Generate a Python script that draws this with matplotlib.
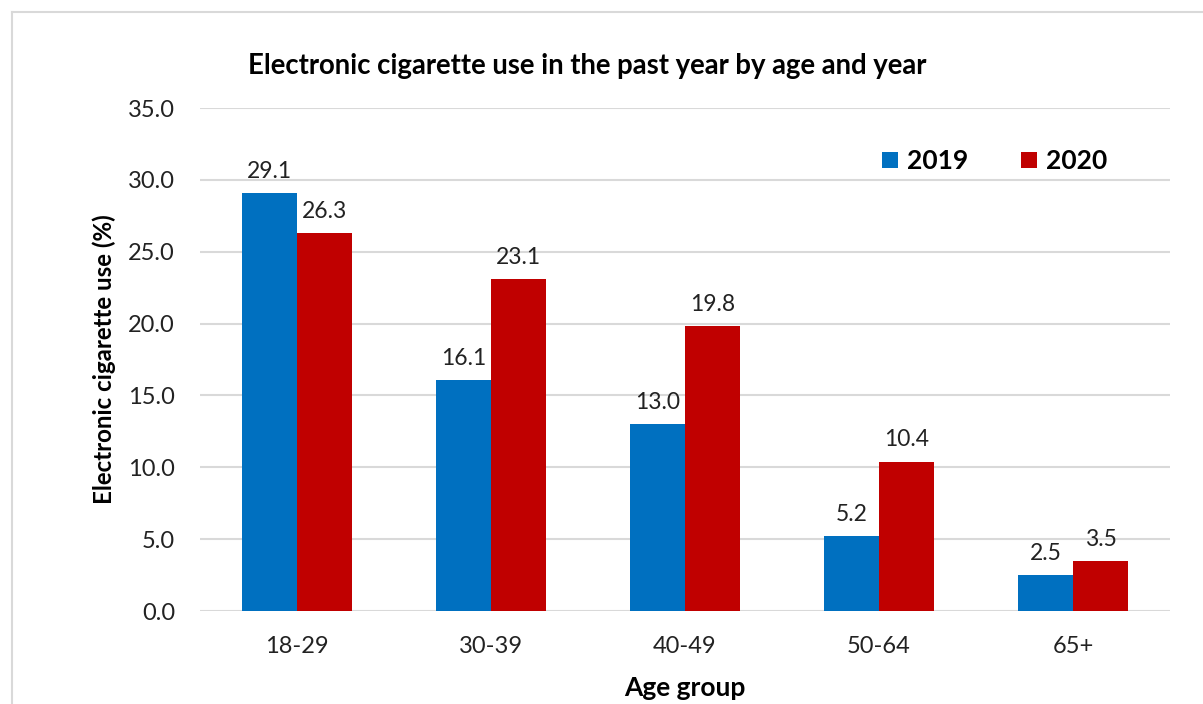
import numpy as np
import matplotlib.pyplot as plt
from matplotlib.lines import Line2D

plt.rcParams['font.family'] = ['Lato', 'DejaVu Sans']

age_groups = ['18-29', '30-39', '40-49', '50-64', '65+']
use_2019 = [29.1, 16.1, 13.0, 5.2, 2.5]
use_2020 = [26.3, 23.1, 19.8, 10.4, 3.5]
years = ['2019', '2020']

blue = '#0070C0'
red = '#C00000'
grid_gray = '#D9D9D9'

fig = plt.figure(figsize=(12.03, 7.04), dpi=100)
ax = fig.add_axes([200 / 1203, 1 - 611 / 704, 970 / 1203, 503 / 704])

# chart frame (top and left edges, rest runs off the canvas)
fig.add_artist(Line2D([12 / 1203, 1.0], [1 - 12 / 704, 1 - 12 / 704],
                      transform=fig.transFigure, color=grid_gray, lw=1.5))
fig.add_artist(Line2D([12 / 1203, 12 / 1203], [0.0, 1 - 12 / 704],
                      transform=fig.transFigure, color=grid_gray, lw=1.5))

x = np.arange(len(age_groups))
width = 0.285
bars19 = ax.bar(x - width / 2, use_2019, width, color=blue, label=years[0], zorder=3)
bars20 = ax.bar(x + width / 2, use_2020, width, color=red, label=years[1], zorder=3)

for bars, vals in ((bars19, use_2019), (bars20, use_2020)):
    for b, v in zip(bars, vals):
        ax.annotate(f'{v:.1f}', (b.get_x() + b.get_width() / 2, v),
                    xytext=(0, 8), textcoords='offset points',
                    ha='center', va='bottom', fontsize=16.5, color='#222222')

ax.set_xlim(-0.5, len(age_groups) - 0.5)
ax.set_ylim(0, 35)
ax.set_yticks(np.arange(0, 35.1, 5))
ax.set_yticklabels([f'{t:.1f}' for t in np.arange(0, 35.1, 5)])
ax.set_xticks(x)
ax.set_xticklabels(age_groups)
ax.tick_params(axis='both', length=0, labelsize=17, colors='#222222')
ax.tick_params(axis='y', pad=18)
ax.tick_params(axis='x', pad=18)
ax.yaxis.grid(True, color=grid_gray, lw=1.5, zorder=0)
ax.set_axisbelow(True)
for s in ax.spines.values():
    s.set_visible(False)

ax.set_ylabel('Electronic cigarette use (%)', fontsize=17.4, fontweight='bold', labelpad=9)
ax.set_xlabel('Age group', fontsize=19, fontweight='bold', labelpad=14)

fig.text(248 / 1203, 1 - 66 / 704, 'Electronic cigarette use in the past year by age and year',
         fontsize=19.8, fontweight='bold', ha='left', va='center')

leg = ax.legend(loc='upper right', bbox_to_anchor=(0.96, 0.965), ncol=2, frameon=False,
                prop={'weight': 'bold', 'size': 19}, handlelength=0.6, handleheight=0.6,
                handletextpad=0.35, columnspacing=2.0)

fig.savefig('out.png', dpi=100)
